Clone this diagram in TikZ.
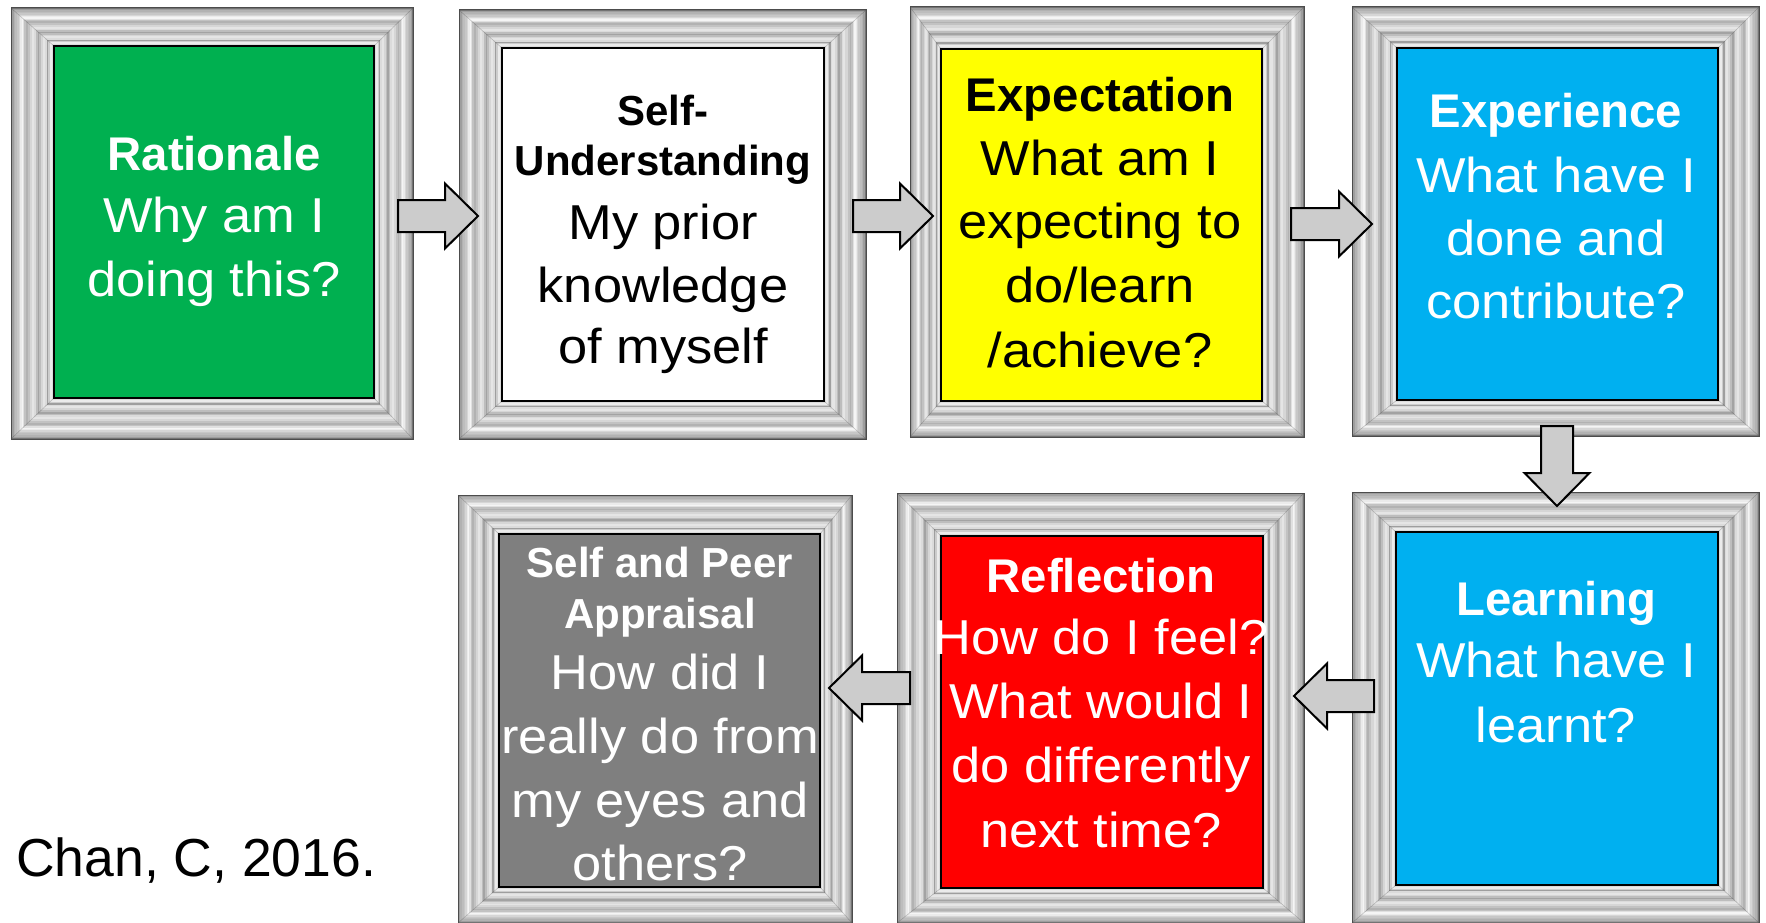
\documentclass[tikz,border=0pt]{standalone}
\usepackage{fontspec}
\setmainfont{Liberation Sans}
\newfontfamily\bodyfont[FakeStretch=1.07]{Liberation Sans}
\newfontfamily\headfont{Liberation Sans}
\usetikzlibrary{calc}

\definecolor{boxgreen}{HTML}{00B050}
\definecolor{boxyellow}{HTML}{FFFF00}
\definecolor{boxblue}{HTML}{00B0F0}
\definecolor{boxred}{HTML}{FF0000}
\definecolor{boxgray}{HTML}{7F7F7F}
\definecolor{arrowfill}{HTML}{CCCCCC}

\tikzset{
  x=1pt, y=-1pt,
  innerbox/.style={draw=black, line width=2pt},
  mitre/.style={draw=black, line width=0.6pt, opacity=0.2},
  blockarrow/.style={draw=black, line width=2pt, line join=miter, fill=arrowfill},
  bodytext/.style={anchor=base, inner sep=0pt, font=\bodyfont\fontsize{49}{58}\selectfont},
  headtext/.style={anchor=base, inner sep=0pt, font=\headfont\bfseries\fontsize{47.3}{56}\selectfont},
  subheadtext/.style={anchor=base, inner sep=0pt, font=\headfont\bfseries\fontsize{42}{50}\selectfont},
}

% silver moulding: concentric bands between the outer and the inner rectangle,
% then the coloured panel inside
% #1 name, #2 outer NW, #3 outer SE, #4 inner NW, #5 inner SE, #6 panel colour
\newcommand\silverframe[6]{%
  \coordinate (#1-onw) at #2;
  \coordinate (#1-ose) at #3;
  \coordinate (#1-inw) at #4;
  \coordinate (#1-ise) at #5;
  \foreach \f/\g in {0/45, 0.02/62, 0.06/70, 0.10/74, 0.14/78, 0.18/84,
                     0.21/92, 0.25/96, 0.28/88, 0.31/76, 0.35/70, 0.39/76,
                     0.44/84, 0.49/90, 0.54/86, 0.58/74, 0.62/64, 0.66/74,
                     0.70/84, 0.75/90, 0.80/86, 0.84/62, 0.87/80, 0.90/92,
                     0.95/86, 0.98/70} {
    \fill[white!\g!black] ($(#1-onw)!\f!(#1-inw)$) rectangle ($(#1-ose)!\f!(#1-ise)$);
  }
  \draw[mitre] (#1-onw) -- (#1-inw);
  \draw[mitre] (#1-ose) -- (#1-ise);
  \draw[mitre] (#1-onw -| #1-ose) -- (#1-inw -| #1-ise);
  \draw[mitre] (#1-onw |- #1-ose) -- (#1-inw |- #1-ise);
  \draw[black!70, line width=1pt] (#1-onw) rectangle (#1-ose);
  \draw[innerbox, fill=#6] (#1-inw) rectangle (#1-ise);
}

% block arrows: tail, head base, tip along the arrow; centre across it
\newcommand\harrow[4]{%
  \draw[blockarrow] (#1,#4-16) -- (#2,#4-16) -- (#2,#4-32.5) -- (#3,#4)
    -- (#2,#4+32.5) -- (#2,#4+16) -- (#1,#4+16) -- cycle;}
\newcommand\varrow[4]{%
  \draw[blockarrow] (#4-16,#1) -- (#4-16,#2) -- (#4-32.5,#2) -- (#4,#3)
    -- (#4+32.5,#2) -- (#4+16,#2) -- (#4+16,#1) -- cycle;}

\begin{document}
\begin{tikzpicture}
\useasboundingbox (0,0) rectangle (1766,923);

% frames
\silverframe{rat}{(11,8)}{(413,439)}{(54,46)}{(374,398)}{boxgreen}
\silverframe{und}{(459,10)}{(866,439)}{(502,48)}{(824,401)}{white}
\silverframe{exp}{(910,7)}{(1304,437)}{(941,49)}{(1262,401)}{boxyellow}
\silverframe{xpr}{(1352,7)}{(1759,436)}{(1397,48)}{(1718,400)}{boxblue}
\silverframe{lrn}{(1352,492)}{(1759,923)}{(1396,532)}{(1718,885)}{boxblue}
\silverframe{ref}{(897,493)}{(1304,923)}{(941,536)}{(1263,888)}{boxred}
\silverframe{apr}{(458,495)}{(852,923)}{(499,534)}{(820,887)}{boxgray}

% arrows between the frames
\harrow{398}{445}{478}{216}
\harrow{853}{900}{933}{216}
\harrow{1291}{1339}{1372}{224}
\varrow{426}{473}{506}{1557}
\harrow{1374}{1327}{1294}{696}
\harrow{910}{862}{829}{688}

% Rationale
\node[headtext, text=white] (rat-h) at (214,170) {Rationale};
\node[bodytext, text=white] (rat-1) at (214,232) {Why am I};
\node[bodytext, text=white] (rat-2) at (214,296) {doing this?};

% Self-Understanding
\node[subheadtext] (und-h1) at (663,126) {Self-};
\node[subheadtext] (und-h2) at (663,175) {Understanding};
\node[bodytext] (und-1) at (663,239) {My prior};
\node[bodytext] (und-2) at (663,302) {knowledge};
\node[bodytext] (und-3) at (663,363) {of myself};

% Expectation
\node[headtext] (exp-h) at (1100,112) {Expectation};
\node[bodytext] (exp-1) at (1100,175) {What am I};
\node[bodytext] (exp-2) at (1100,238) {expecting to};
\node[bodytext] (exp-3) at (1100,302) {do/learn};
\node[bodytext] (exp-4) at (1100,367) {/achieve?};

% Experience
\node[headtext, text=white] (xpr-h) at (1556,128) {Experience};
\node[bodytext, text=white] (xpr-1) at (1556,192) {What have I};
\node[bodytext, text=white] (xpr-2) at (1556,255) {done and};
\node[bodytext, text=white] (xpr-3) at (1556,318) {contribute?};

% Learning
\node[headtext, text=white] (lrn-h) at (1556,615) {Learning};
\node[bodytext, text=white] (lrn-1) at (1556,677) {What have I};
\node[bodytext, text=white] (lrn-2) at (1556,742) {learnt?};

% Reflection
\node[headtext, text=white] (ref-h) at (1101,592) {Reflection};
\node[bodytext, text=white] (ref-1) at (1101,654) {How do I feel?};
\node[bodytext, text=white] (ref-2) at (1101,718) {What would I};
\node[bodytext, text=white] (ref-3) at (1101,782) {do differently};
\node[bodytext, text=white] (ref-4) at (1101,847) {next time?};

% Self and Peer Appraisal
\node[subheadtext, text=white] (apr-h1) at (660,577) {Self and Peer};
\node[subheadtext, text=white] (apr-h2) at (660,628) {Appraisal};
\node[bodytext, text=white] (apr-1) at (660,689) {How did I};
\node[bodytext, text=white] (apr-2) at (660,753) {really do from};
\node[bodytext, text=white] (apr-3) at (660,817) {my eyes and};
\node[bodytext, text=white] (apr-4) at (660,880) {others?};

% citation
\node[anchor=base west, inner sep=0pt, font=\fontsize{53.5}{60}\selectfont] (cite) at (16,876) {Chan, C, 2016.};
\end{tikzpicture}
\end{document}
